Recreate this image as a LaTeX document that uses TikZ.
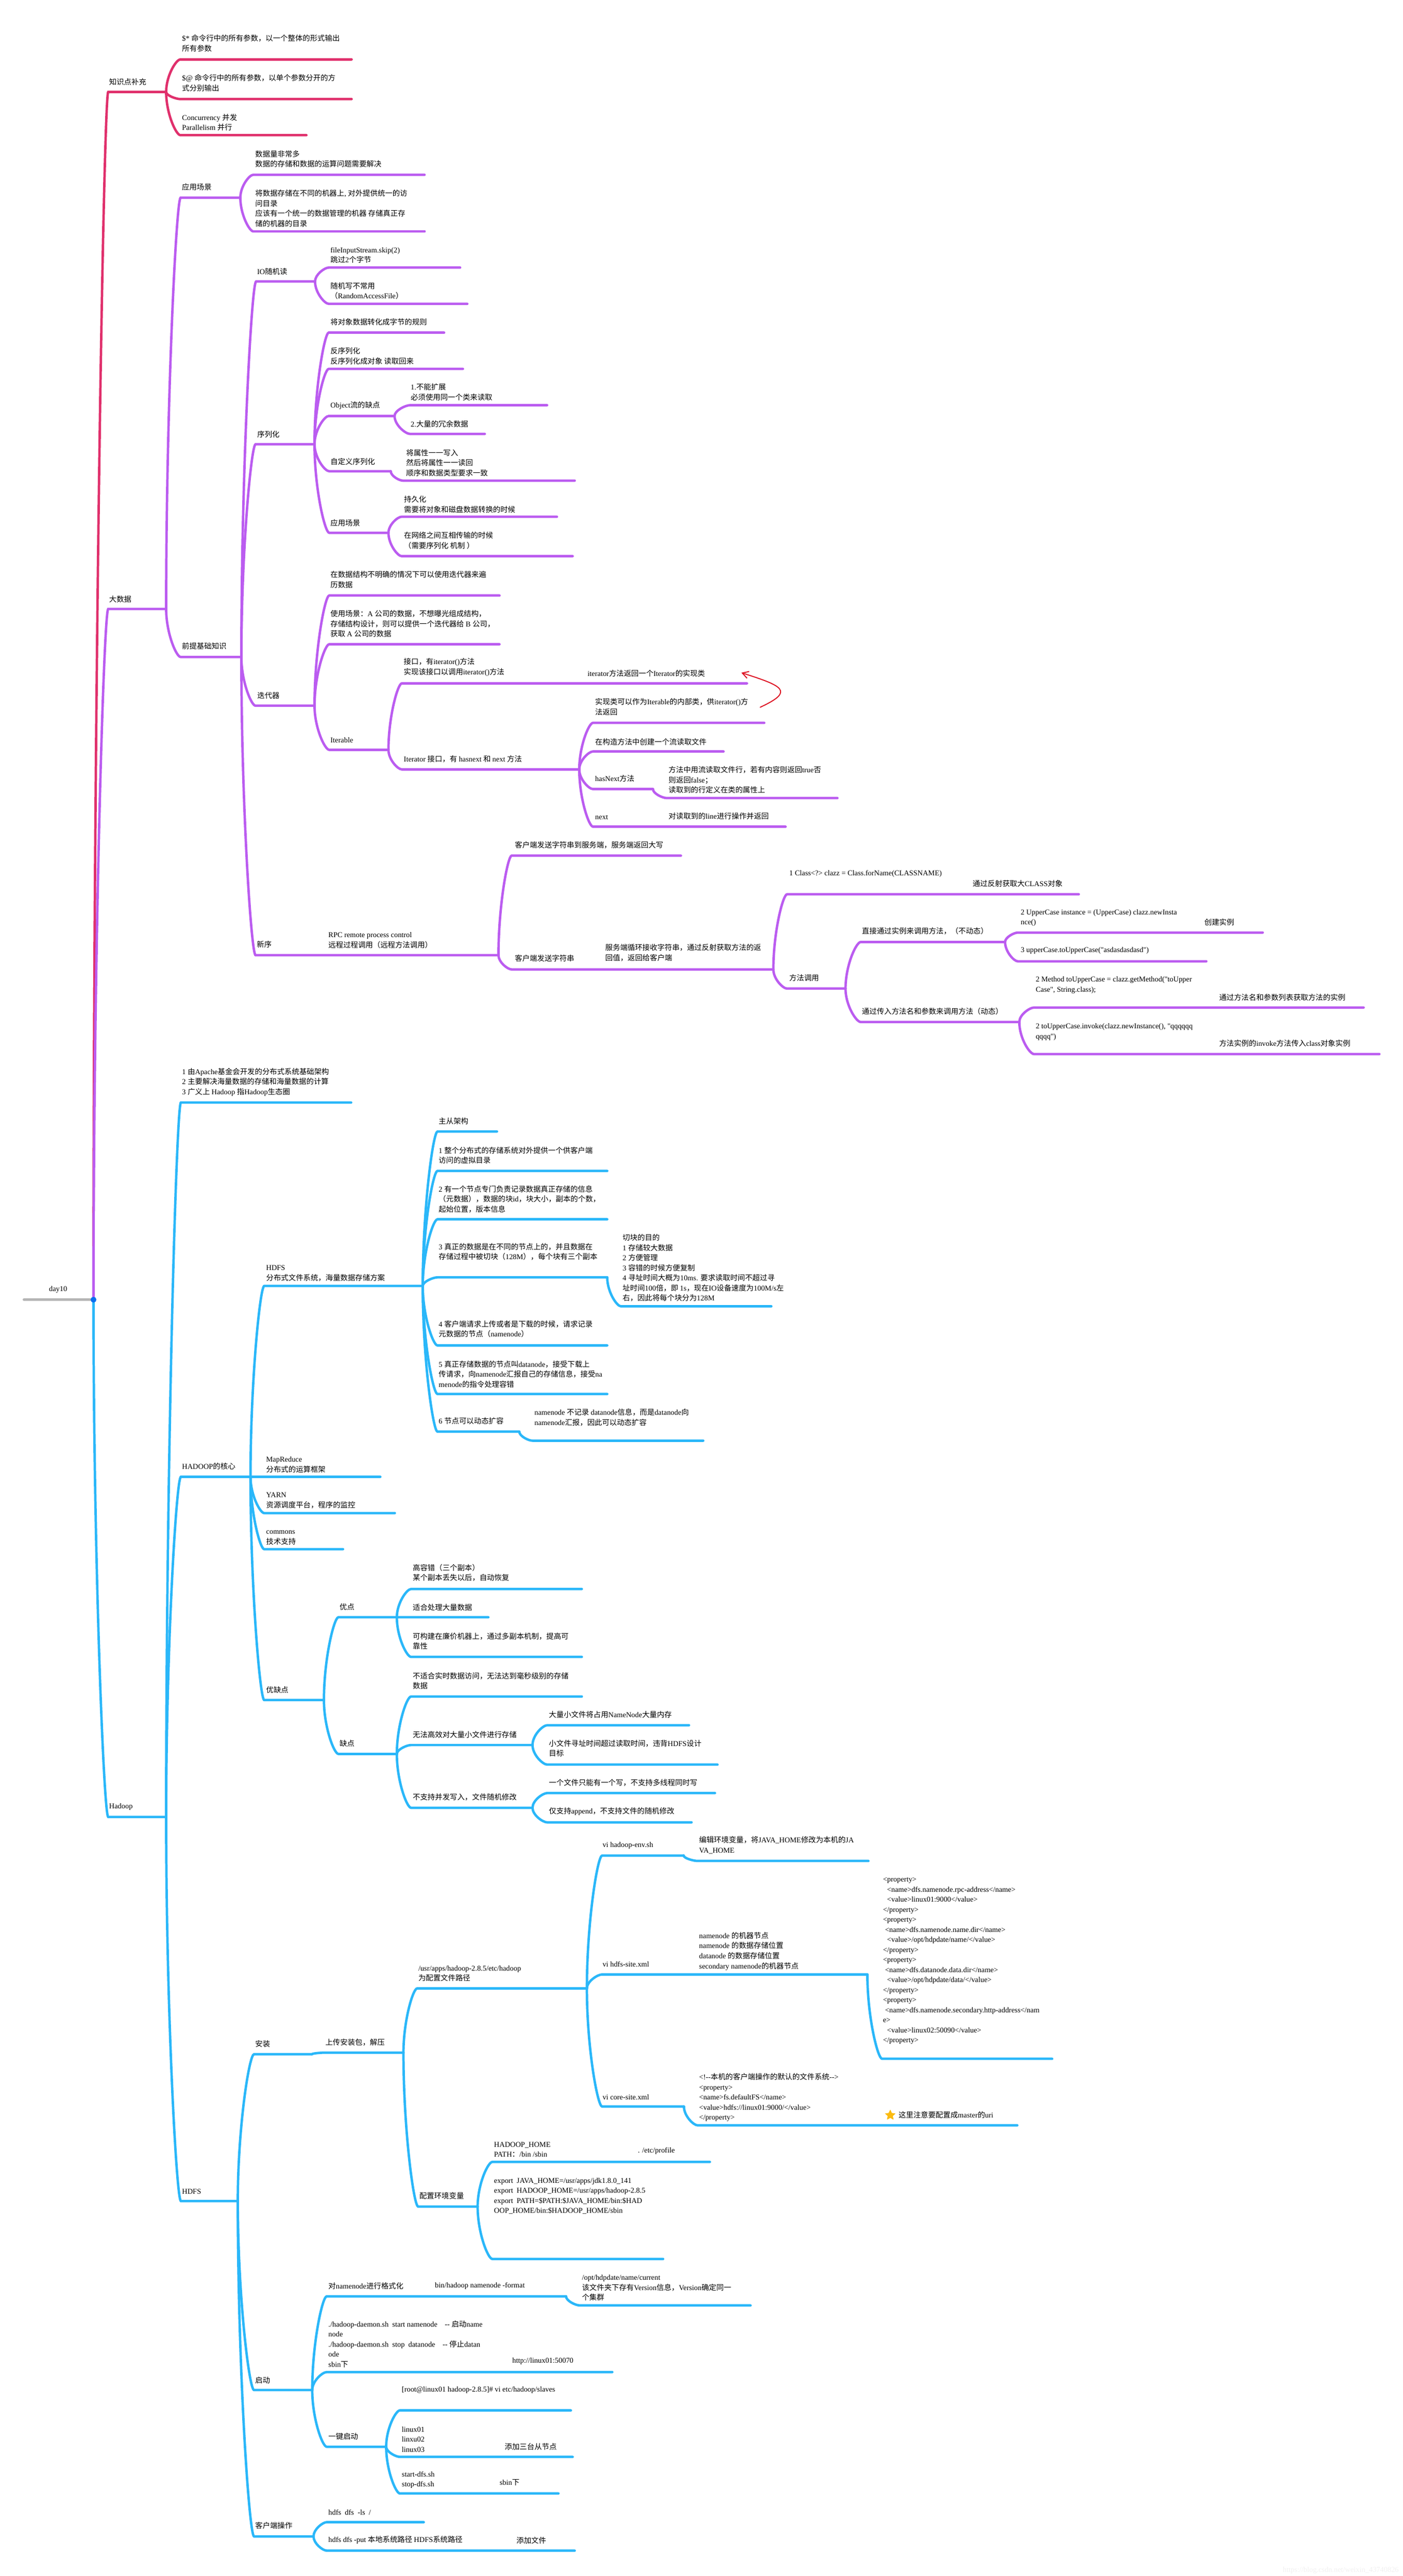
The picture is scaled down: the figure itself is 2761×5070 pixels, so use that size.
\documentclass[tikz,border=0pt]{standalone}
\usepackage{fontspec}
\usetikzlibrary{arrows.meta, positioning, shapes.geometric, calc}

\newfontfamily\serif{Liberation Serif}
\newfontfamily\cjk{Noto Sans CJK SC}
\newfontfamily\wmark{Liberation Sans}

\XeTeXinterchartokenstate=1
\newXeTeXintercharclass\cjkclass
\newcount\chcode
\newcommand{\cjkrange}[2]{%
  \chcode=#1
  \loop
    \XeTeXcharclass\chcode=\cjkclass
  \ifnum\chcode<#2
    \advance\chcode by 1
  \repeat}
\cjkrange{"3000}{"303F}
\cjkrange{"4E00}{"9FFF}
\cjkrange{"FF00}{"FFEF}
\XeTeXinterchartoks 0 \cjkclass={\cjk}
\XeTeXinterchartoks \cjkclass 0 ={\serif}
\XeTeXinterchartoks 4095 \cjkclass={\cjk}
\XeTeXinterchartoks 4095 0 ={\serif}

\definecolor{limbred}{HTML}{E0306C}
\definecolor{limbpurple}{HTML}{BB5CF0}
\definecolor{limbblue}{HTML}{2AB7F9}
\definecolor{limbgray}{HTML}{B5B5B5}
\definecolor{dotblue}{HTML}{0A6EF0}
\definecolor{starcol}{HTML}{FBBB10}
\definecolor{notered}{HTML}{DD1122}
\colorlet{limbcol}{limbred}

\tikzset{
  limb/.style={line width=2.4pt, line cap=round, color=limbcol},
  txt/.style={font=\fontsize{7.3}{9.9}\selectfont\serif, align=left, anchor=south west, inner sep=0pt}
}

\newcommand{\limb}[5]{%
  \coordinate (#2) at (#3,#5);
  \coordinate (#2E) at (#4,#5);
  \draw[limb] (#1E) .. controls ($(#1E)!0.5!(#1E|-#2)$) and ($(#1E|-#2)!0.7!(#2)$) .. (#2) -- (#2E);
}

\begin{document}
\begin{tikzpicture}[x=0.5pt,y=-0.5pt]
    \useasboundingbox (0,0) rectangle (2761,5070);
    \coordinate (rootS) at (47,2558);
    \coordinate (rootE) at (184,2558);

    \limb{root}{know}{213}{327}{181}
    \limb{know}{arg}{355}{692}{117}
    \limb{know}{argb}{355}{692}{195}
    \limb{know}{conc}{355}{603}{266}
    \node[txt] (knowT) at (214.5,168) {知识点补充};
    \node[txt] (argT) at (358,102) {\$* 命令行中的所有参数，以一个整体的形式输出\\所有参数};
    \node[txt] (argbT) at (358,180.5) {\$@ 命令行中的所有参数，以单个参数分开的方\\式分别输出};
    \node[txt] (concT) at (358,258) {Concurrency 并发\\Parallelism 并行};

    \colorlet{limbcol}{limbpurple}
    \limb{root}{big}{213}{327}{1198.5}
    \node[txt] (bigT) at (214.5,1186) {大数据};
    \limb{big}{scene}{355.5}{473}{389}
    \node[txt] (sceneT) at (357.7,375.6) {应用场景};
    \limb{scene}{much}{498.5}{835.5}{344}
    \limb{scene}{dir}{498.5}{835.5}{455.4}
    \node[txt] (muchT) at (502,329.7) {数据量非常多\\数据的存储和数据的运算问题需要解决};
    \node[txt] (dirT) at (502,446.8) {将数据存储在不同的机器上, 对外提供统一的访\\问目录\\应该有一个统一的数据管理的机器 存储真正存\\储的机器的目录};

    \limb{big}{pre}{355.5}{475}{1293}
    \node[txt] (preT) at (357.7,1279) {前提基础知识};
    \limb{pre}{io}{504}{620}{554}
    \node[txt] (ioT) at (505.7,541.5) {IO随机读};
    \limb{io}{skip}{647}{905.5}{526.6}
    \limb{io}{rand}{647}{919.6}{598}
    \node[txt] (skipT) at (650,518.5) {fileInputStream.skip(2)\\跳过2个字节};
    \node[txt] (randT) at (650,589.7) {随机写不常用\\（RandomAccessFile）};

    \limb{pre}{ser}{503}{619}{874.4}
    \node[txt] (serT) at (506,862) {序列化};
    \limb{ser}{rule}{647}{874}{654.6}
    \limb{ser}{deser}{647}{911}{726}
    \limb{ser}{obj}{647}{776.5}{818.7}
    \limb{ser}{self}{648}{769}{927.5}
    \limb{ser}{use}{648}{764.5}{1048.7}
    \node[txt] (ruleT) at (650,641) {将对象数据转化成字节的规则};
    \node[txt] (deserT) at (650,717.7) {反序列化\\反序列化成对象 读取回来};
    \node[txt] (objT) at (650,806) {Object流的缺点};
    \node[txt] (selfT) at (650,916) {自定义序列化};
    \node[txt] (useT) at (650,1036) {应用场景};
    \limb{obj}{noext}{807}{1076.7}{797.5}
    \limb{obj}{redun}{807}{954}{854}
    \node[txt] (noextT) at (808,789) {1.不能扩展\\必须使用同一个类来读取};
    \node[txt] (redunT) at (808,842) {2.大量的冗余数据};
    \limb{self}{attr}{793}{1131}{946}
    \node[txt] (attrT) at (799,938) {将属性一一写入\\然后将属性一一读回\\顺序和数据类型要求一致};
    \limb{use}{disk}{790.5}{1096}{1017}
    \limb{use}{net}{790.5}{1127}{1094.6}
    \node[txt] (diskT) at (794.7,1010) {持久化\\需要将对象和磁盘数据转换的时候};
    \node[txt] (netT) at (794.7,1081) {在网络之间互相传输的时候\\（需要序列化 机制 ）};

    \limb{pre}{iter}{503}{619}{1389}
    \node[txt] (iterT) at (506,1376.5) {迭代器};
    \limb{iter}{walk}{648}{983}{1172}
    \limb{iter}{hide}{648}{983}{1268}
    \limb{iter}{able}{648}{764.5}{1475.8}
    \node[txt] (walkT) at (650,1157.7) {在数据结构不明确的情况下可以使用迭代器来遍\\历数据};
    \node[txt] (hideT) at (650,1254.8) {使用场景：A 公司的数据，不想曝光组成结构，\\存储结构设计，则可以提供一个迭代器给 B 公司，\\获取 A 公司的数据};
    \node[txt] (ableT) at (650,1462.6) {Iterable};
    \limb{able}{face}{790.8}{1470}{1345}
    \limb{able}{itor}{790.8}{1140}{1514.3}
    \node[txt] (faceT) at (794.3,1331) {接口，有iterator()方法\\实现该接口以调用iterator()方法};
    \node[txt] (faceN) at (1156,1332) {iterator方法返回一个Iterator的实现类};
    \node[txt] (itorT) at (794.3,1501) {Iterator 接口，有 hasnext 和 next 方法};
    \limb{itor}{inner}{1167}{1504}{1422.7}
    \limb{itor}{ctor}{1167}{1424}{1479}
    \limb{itor}{has}{1167}{1285}{1553}
    \limb{itor}{nxt}{1167}{1546}{1627}
    \node[txt] (innerT) at (1171,1408) {实现类可以作为Iterable的内部类，供iterator()方\\法返回};
    \node[txt] (ctorT) at (1171,1467) {在构造方法中创建一个流读取文件};
    \node[txt] (hasT) at (1171,1539) {hasNext方法};
    \node[txt] (nxtT) at (1171,1613) {next};
    \node[txt] (nxtN) at (1315.5,1613) {对读取到的line进行操作并返回};
    \limb{has}{line}{1312}{1648}{1570.7}
    \node[txt] (lineT) at (1315.5,1562) {方法中用流读取文件行，若有内容则返回true否\\则返回false；\\读取到的行定义在类的属性上};
    \coordinate (noteS) at (1496,1392);
    \coordinate (noteE) at (1459,1324);
    \draw[notered, line width=1pt, line cap=round, -{Straight Barb[length=6pt,width=7pt]}] (noteS) .. controls (1565,1360) and (1540,1350) .. (noteE);

    \limb{pre}{rpc}{503}{981}{1880}
    \node[txt] (rpcT) at (505,1866) {新序};
    \node[txt] (rpcN) at (646,1867) {RPC remote process control\\远程过程调用（远程方法调用）};
    \limb{rpc}{upper}{1007}{1340}{1684}
    \limb{rpc}{send}{1007}{1522}{1908}
    \node[txt] (upperT) at (1013,1670) {客户端发送字符串到服务端，服务端返回大写};
    \node[txt] (sendT) at (1013,1893.6) {客户端发送字符串};
    \node[txt] (sendN) at (1191,1892.5) {服务端循环接收字符串，通过反射获取方法的返\\回值，返回给客户端};
    \limb{send}{clazz}{1549}{2123}{1760}
    \limb{send}{call}{1549}{1664}{1945.7}
    \node[txt] (clazzT) at (1553,1727) {1 Class<?> clazz = Class.forName(CLASSNAME)};
    \node[txt] (clazzN) at (1914,1746) {通过反射获取大CLASS对象};
    \node[txt] (callT) at (1553,1932) {方法调用};
    \limb{call}{direct}{1694}{1978}{1854}
    \limb{call}{dyna}{1694}{2006}{2011.5}
    \node[txt] (directT) at (1696,1840) {直接通过实例来调用方法，（不动态）};
    \node[txt] (dynaT) at (1696,1998) {通过传入方法名和参数来调用方法（动态）};
    \limb{direct}{inst}{2003}{2485}{1835.5}
    \limb{direct}{toup}{2003}{2374}{1892}
    \node[txt] (instT) at (2008.5,1823.6) {2 UpperCase instance = (UpperCase) clazz.newInsta\\nce()};
    \node[txt] (instN) at (2370,1821.7) {创建实例};
    \node[txt] (toupT) at (2008.5,1878) {3 upperCase.toUpperCase("asdasdasdasd")};
    \limb{dyna}{meth}{2035}{2683.6}{1983}
    \limb{dyna}{invk}{2035}{2714.6}{2074.6}
    \node[txt] (methT) at (2038,1956) {2 Method toUpperCase = clazz.getMethod("toUpper\\Case", String.class);};
    \node[txt] (methN) at (2399,1970) {通过方法名和参数列表获取方法的实例};
    \node[txt] (invkT) at (2038,2048) {2 toUpperCase.invoke(clazz.newInstance(), "qqqqqq\\qqqq")};
    \node[txt] (invkN) at (2399,2061) {方法实例的invoke方法传入class对象实例};

    \colorlet{limbcol}{limbblue}
    \limb{root}{had}{213}{327}{3576}
    \node[txt] (hadT) at (214.5,3563) {Hadoop};
    \limb{had}{intro}{356}{691}{2170}
    \node[txt] (introT) at (358,2157.5) {1 由Apache基金会开发的分布式系统基础架构\\2 主要解决海量数据的存储和海量数据的计算\\3 广义上 Hadoop 指Hadoop生态圈};
    \limb{had}{core}{356}{493}{2906.6}
    \node[txt] (coreT) at (358,2893) {HADOOP的核心};

    \limb{core}{hdfs}{520}{832}{2531}
    \node[txt] (hdfsT) at (523.5,2522) {HDFS\\分布式文件系统，海量数据存储方案};
    \limb{hdfs}{ms}{861}{978}{2227}
    \limb{hdfs}{one}{861}{1195}{2304.5}
    \limb{hdfs}{two}{861}{1195}{2399.7}
    \limb{hdfs}{three}{861}{1195}{2514}
    \limb{hdfs}{four}{861}{1195}{2648}
    \limb{hdfs}{five}{861}{1195}{2743.6}
    \limb{hdfs}{six}{861}{1022}{2817.7}
    \node[txt] (msT) at (863,2214) {主从架构};
    \node[txt] (oneT) at (863,2290.7) {1 整个分布式的存储系统对外提供一个供客户端\\访问的虚拟目录};
    \node[txt] (twoT) at (863,2387) {2 有一个节点专门负责记录数据真正存储的信息\\（元数据），数据的块id，块大小，副本的个数，\\起始位置，版本信息};
    \node[txt] (threeT) at (863,2480.7) {3 真正的数据是在不同的节点上的，并且数据在\\存储过程中被切块（128M），每个块有三个副本};
    \node[txt] (fourT) at (863,2633) {4 客户端请求上传或者是下载的时候，请求记录\\元数据的节点（namenode）};
    \node[txt] (fiveT) at (863,2731.5) {5 真正存储数据的节点叫datanode，接受下载上\\传请求，向namenode汇报自己的存储信息，接受na\\menode的指令处理容错};
    \node[txt] (sixT) at (863,2804) {6 节点可以动态扩容};
    \limb{three}{block}{1222}{1518}{2571}
    \node[txt] (blockT) at (1225,2562) {切块的目的\\1 存储较大数据\\2 方便管理\\3 容错的时候方便复制\\4 寻址时间大概为10ms. 要求读取时间不超过寻\\址时间100倍，即 1s，现在IO设备速度为100M/s左\\右，因此将每个块分为128M};
    \limb{six}{scale}{1048}{1384}{2835.5}
    \node[txt] (scaleT) at (1051.5,2806.7) {namenode 不记录 datanode信息，而是datanode向\\namenode汇报，因此可以动态扩容};

    \limb{core}{mr}{520}{748.5}{2906.6}
    \limb{core}{yarn}{520}{777}{2978}
    \limb{core}{comm}{520}{675}{3049}
    \limb{core}{pros}{520}{637.5}{3346}
    \node[txt] (mrT) at (523.5,2898.6) {MapReduce\\分布式的运算框架};
    \node[txt] (yarnT) at (523.5,2969) {YARN\\资源调度平台，程序的监控};
    \node[txt] (commT) at (523.5,3041) {commons\\技术支持};
    \node[txt] (prosT) at (523.5,3333.5) {优缺点};
    \limb{pros}{good}{666}{781}{3183}
    \limb{pros}{bad}{666}{781}{3452}
    \node[txt] (goodT) at (668,3170) {优点};
    \node[txt] (badT) at (668,3438) {缺点};
    \limb{good}{fault}{809}{1145}{3127.4}
    \limb{good}{large}{809}{961}{3183}
    \limb{good}{cheap}{809}{1145}{3261}
    \node[txt] (faultT) at (812,3112.5) {高容错（三个副本）\\某个副本丢失以后，自动恢复};
    \node[txt] (largeT) at (812,3170.5) {适合处理大量数据};
    \node[txt] (cheapT) at (812,3247) {可构建在廉价机器上，通过多副本机制，提高可\\靠性};
    \limb{bad}{real}{809}{1145}{3339}
    \limb{bad}{small}{809}{1048}{3434.5}
    \limb{bad}{conw}{809}{1048}{3558}
    \node[txt] (realT) at (812,3325) {不适合实时数据访问，无法达到毫秒级别的存储\\数据};
    \node[txt] (smallT) at (812,3421) {无法高效对大量小文件进行存储};
    \node[txt] (conwT) at (812,3544) {不支持并发写入，文件随机修改};
    \limb{small}{mem}{1077}{1356}{3395.5}
    \limb{small}{seek}{1077}{1412}{3473}
    \node[txt] (memT) at (1080,3382) {大量小文件将占用NameNode大量内存};
    \node[txt] (seekT) at (1080,3458) {小文件寻址时间超过读取时间，违背HDFS设计\\目标};
    \limb{conw}{onew}{1077}{1407}{3529}
    \limb{conw}{app}{1077}{1361}{3586.7}
    \node[txt] (onewT) at (1080,3516) {一个文件只能有一个写，不支持多线程同时写};
    \node[txt] (appT) at (1080,3573.5) {仅支持append，不支持文件的随机修改};

    \limb{had}{hd}{356}{468}{4332}
    \node[txt] (hdT) at (358,4319) {HDFS};
    \limb{hd}{setup}{500}{614}{4043}
    \node[txt] (setupT) at (502,4030) {安装};
    \limb{setup}{unzip}{637}{794}{4040}
    \node[txt] (unzipT) at (640,4027) {上传安装包，解压};
    \limb{unzip}{path}{821}{1155}{3913.5}
    \limb{unzip}{envv}{823}{940}{4343}
    \node[txt] (pathT) at (823,3900) {/usr/apps/hadoop-2.8.5/etc/hadoop\\为配置文件路径};
    \node[txt] (envvT) at (825,4329) {配置环境变量};
    \limb{path}{henv}{1185}{1345.5}{3652}
    \limb{path}{hsite}{1185}{1707}{3886}
    \limb{path}{csite}{1185}{1346}{4146}
    \node[txt] (henvT) at (1185.5,3639) {vi hadoop-env.sh};
    \node[txt] (hsiteT) at (1185.5,3872) {vi hdfs-site.xml};
    \node[txt] (hsiteN) at (1375.5,3878) {namenode 的机器节点\\namenode 的数据存储位置\\datanode 的数据存储位置\\secondary namenode的机器节点};
    \node[txt] (csiteT) at (1185.5,4133.6) {vi core-site.xml};
    \limb{henv}{jh}{1373}{1709}{3662.6}
    \node[txt] (jhT) at (1375.5,3649) {编辑环境变量，将JAVA\_HOME修改为本机的JA\\VA\_HOME};
    \limb{hsite}{prop}{1736}{2070.6}{4052}
    \node[txt] (propT) at (1737.4,4024) {<property>\\\hspace*{4pt}<name>dfs.namenode.rpc-address</name>\\\hspace*{4pt}<value>linux01:9000</value>\\</property>\\<property>\\\hspace*{2pt}<name>dfs.namenode.name.dir</name>\\\hspace*{4pt}<value>/opt/hdpdate/name/</value>\\</property>\\<property>\\\hspace*{2pt}<name>dfs.datanode.data.dir</name>\\\hspace*{4pt}<value>/opt/hdpdate/data/</value>\\</property>\\<property>\\\hspace*{2pt}<name>dfs.namenode.secondary.http-address</nam\\e>\\\hspace*{4pt}<value>linux02:50090</value>\\</property>};
    \limb{csite}{dfs}{1373}{2002}{4183}
    \node[txt] (dfsT) at (1375.5,4176) {<!--本机的客户端操作的默认的文件系统-->\\<property>\\<name>fs.defaultFS</name>\\<value>hdfs://linux01:9000/</value>\\</property>};
    \node[star, star points=5, star point ratio=2.1, fill=starcol, draw=starcol, line join=round, line width=0.5pt, inner sep=0pt, minimum size=10pt] (mark) at (1752,4163) {};
    \node[txt] (dfsN) at (1768,4170) {这里注意要配置成master的uri};
    \limb{envv}{hh}{969}{1397}{4255}
    \limb{envv}{exp}{969}{1305}{4446}
    \node[txt] (hhT) at (972,4246) {HADOOP\_HOME\\PATH：/bin /sbin};
    \node[txt] (hhN) at (1255,4240.7) {. /etc/profile};
    \node[txt] (expT) at (972,4358) {export\ \ JAVA\_HOME=/usr/apps/jdk1.8.0\_141\\export\ \ HADOOP\_HOME=/usr/apps/hadoop-2.8.5\\export\ \ PATH=\$PATH:\$JAVA\_HOME/bin:\$HAD\\OOP\_HOME/bin:\$HADOOP\_HOME/sbin};

    \limb{hd}{boot}{500}{614.5}{4704}
    \node[txt] (bootT) at (502,4691.5) {启动};
    \limb{boot}{fmt}{643}{1114}{4519.5}
    \limb{boot}{dmn}{643}{1205}{4668.6}
    \limb{boot}{key}{643}{760}{4815.6}
    \node[txt] (fmtT) at (646,4506) {对namenode进行格式化};
    \node[txt] (fmtN) at (855.6,4506) {bin/hadoop namenode -format};
    \node[txt] (dmnT) at (646,4660) {./hadoop-daemon.sh\ \ start namenode\ \ \ \ -- 启动name\\node\\./hadoop-daemon.sh\ \ stop\ \ datanode\ \ \ \ -- 停止datan\\ode\\sbin下};
    \node[txt] (dmnN) at (1008,4654.6) {http://linux01:50070};
    \node[txt] (keyT) at (646,4802.4) {一键启动};
    \limb{fmt}{vers}{1141}{1477}{4537.4}
    \node[txt] (versT) at (1145,4529) {/opt/hdpdate/name/current\\该文件夹下存有Version信息，Version确定同一\\个集群};
    \limb{key}{slv}{787}{1123.5}{4744}
    \limb{key}{nod}{787}{1127}{4835.5}
    \limb{key}{sdf}{787}{1099}{4907.5}
    \node[txt] (slvT) at (790.5,4711) {[root@linux01 hadoop-2.8.5]\# vi etc/hadoop/slaves};
    \node[txt] (nodT) at (790.5,4826.5) {linux01\\linxu02\\linux03};
    \node[txt] (nodN) at (993,4822.6) {添加三台从节点};
    \node[txt] (sdfT) at (790.5,4897.7) {start-dfs.sh\\stop-dfs.sh};
    \node[txt] (sdfN) at (983,4893) {sbin下};

    \limb{hd}{cli}{500}{617}{4992}
    \node[txt] (cliT) at (502,4978) {客户端操作};
    \limb{cli}{ls}{643}{834}{4964}
    \limb{cli}{put}{643}{1131}{5020}
    \node[txt] (lsT) at (646,4950) {hdfs\ \ dfs\ \ -ls\ \ /};
    \node[txt] (putT) at (646,5006.7) {hdfs dfs -put 本地系统路径 HDFS系统路径};
    \node[txt] (putN) at (1016,5006.7) {添加文件};

    \draw[limbgray, line width=2.4pt, line cap=round] (rootS) -- (rootE);
    \node[circle, fill=dotblue, inner sep=0pt, minimum size=5.7pt] (rootdot) at (rootE) {};
    \node[txt] (rootT) at (96,2545) {day10};
    \node[font=\fontsize{7.3}{9}\selectfont\wmark, text=black!6, anchor=south east, inner sep=0pt] (wmarkT) at (2753,5066) {https://blog.csdn.net/weixin\_43740826};
\end{tikzpicture}
\end{document}
